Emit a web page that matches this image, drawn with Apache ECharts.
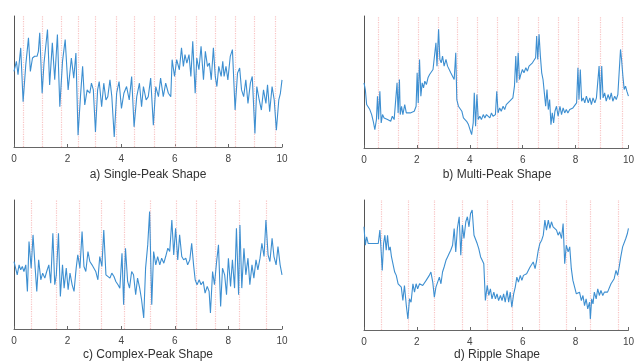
<!DOCTYPE html>
<html><head><meta charset="utf-8">
<script src="https://cdn.jsdelivr.net/npm/echarts@6/dist/echarts.min.js"></script>
<style>html,body{margin:0;padding:0;background:#fff}#c{width:637px;height:363px}</style>
</head><body><div id="c"></div>
<script>
var xTicks = [0, 2, 4, 6, 8, 10];
var captions = ["a) Single-Peak Shape", "b) Multi-Peak Shape", "c) Complex-Peak Shape", "d) Ripple Shape"];

var singlePeakX = [0.00,0.09,0.15,0.25,0.34,0.44,0.54,0.61,0.69,0.77,0.86,0.91,0.96,1.05,1.12,1.25,1.33,1.43,1.52,1.62,1.71,1.81,1.91,2.02,2.14,2.23,2.31,2.39,2.48,2.56,2.64,2.73,2.83,2.89,2.96,3.04,3.12,3.18,3.27,3.35,3.43,3.50,3.58,3.65,3.74,3.83,3.92,4.01,4.10,4.20,4.30,4.39,4.48,4.58,4.68,4.76,4.83,4.93,5.01,5.10,5.20,5.29,5.39,5.47,5.57,5.66,5.76,5.85,5.90,5.99,6.07,6.17,6.25,6.32,6.38,6.45,6.53,6.60,6.67,6.76,6.82,6.90,6.98,7.07,7.14,7.22,7.29,7.36,7.44,7.51,7.57,7.64,7.73,7.79,7.84,7.91,7.98,8.07,8.15,8.25,8.34,8.42,8.49,8.57,8.65,8.73,8.82,8.89,8.99,9.06,9.15,9.23,9.31,9.40,9.46,9.54,9.63,9.71,9.79,9.88,9.94,10.00];
var singlePeakY = [225,255,215,295,135,245,325,225,265,270,270,285,340,160,250,350,185,310,200,335,120,255,320,170,265,205,280,35,150,240,125,170,160,190,170,45,170,195,120,190,140,150,200,150,30,160,195,115,160,180,140,210,60,150,190,120,180,140,150,205,65,180,150,205,150,190,160,150,260,210,260,230,295,240,275,250,275,210,315,160,265,230,300,200,285,240,250,200,295,210,180,240,210,255,210,240,200,270,290,110,220,235,170,150,200,130,190,210,40,180,140,110,170,130,185,105,180,140,50,140,160,200];
var singlePeakLines = [0.35,1.05,1.77,2.39,3.05,3.8,4.48,5.22,6.03,6.8,7.52,8.25,8.98,9.75];

var multiPeakX = [0.00,0.05,0.10,0.16,0.22,0.29,0.35,0.41,0.47,0.51,0.55,0.60,0.65,0.70,0.76,0.82,0.89,0.95,1.01,1.07,1.14,1.20,1.25,1.29,1.34,1.37,1.42,1.47,1.54,1.60,1.67,1.75,1.82,1.90,1.97,2.01,2.05,2.10,2.15,2.20,2.25,2.30,2.36,2.42,2.48,2.55,2.61,2.67,2.72,2.76,2.82,2.87,2.92,2.97,3.03,3.10,3.16,3.22,3.28,3.35,3.41,3.47,3.51,3.57,3.63,3.70,3.76,3.82,3.88,3.95,4.01,4.07,4.13,4.17,4.22,4.27,4.32,4.38,4.44,4.51,4.57,4.63,4.69,4.76,4.82,4.88,4.97,5.02,5.07,5.13,5.19,5.26,5.32,5.38,5.44,5.51,5.57,5.63,5.69,5.74,5.78,5.83,5.88,5.93,5.99,6.05,6.12,6.18,6.24,6.30,6.37,6.43,6.49,6.53,6.57,6.62,6.67,6.72,6.77,6.82,6.87,6.92,6.97,7.02,7.07,7.12,7.17,7.22,7.28,7.34,7.41,7.47,7.53,7.59,7.65,7.71,7.78,7.84,7.90,7.96,8.04,8.09,8.13,8.18,8.23,8.29,8.35,8.41,8.48,8.54,8.60,8.66,8.73,8.79,8.85,8.89,8.94,8.99,9.04,9.10,9.16,9.23,9.29,9.35,9.41,9.48,9.54,9.60,9.65,9.70,9.74,9.79,9.84,9.89,9.94,10.00];
var multiPeakY = [195,175,130,135,115,100,80,55,85,155,85,170,75,100,90,95,85,90,80,95,85,80,195,105,205,100,125,100,130,105,100,105,100,110,125,225,135,265,155,195,180,200,190,210,220,225,235,240,315,245,355,265,255,275,245,265,245,250,225,230,205,285,145,125,120,110,90,95,80,70,75,40,75,165,65,160,85,95,85,100,90,100,95,90,105,95,100,170,105,120,110,125,115,130,125,140,145,150,185,275,195,285,205,220,235,225,240,230,245,240,255,250,270,335,265,340,275,225,205,165,125,175,115,145,70,105,75,110,125,95,125,100,120,105,115,105,115,110,120,125,135,240,145,235,140,150,135,155,135,150,130,150,135,150,145,245,145,245,150,165,140,160,145,165,140,155,145,160,155,295,265,215,175,185,170,155];
var multiPeakLines = [0.54,1.31,2.07,2.81,3.53,4.28,5.03,5.84,6.59,7.34,8.12,8.93,9.75];

var complexPeakX = [0.00,0.06,0.12,0.19,0.25,0.31,0.37,0.44,0.50,0.56,0.64,0.71,0.79,0.85,0.92,1.00,1.07,1.15,1.22,1.30,1.37,1.45,1.52,1.58,1.66,1.73,1.81,1.87,1.95,2.02,2.09,2.17,2.24,2.32,2.38,2.46,2.54,2.61,2.68,2.76,2.83,2.91,2.98,3.05,3.13,3.20,3.28,3.35,3.43,3.50,3.58,3.65,3.73,3.80,3.88,3.95,4.03,4.09,4.16,4.24,4.31,4.39,4.46,4.54,4.61,4.69,4.76,4.84,4.91,4.99,5.06,5.14,5.21,5.29,5.36,5.44,5.51,5.59,5.66,5.74,5.81,5.89,5.96,6.03,6.11,6.18,6.26,6.33,6.41,6.48,6.56,6.63,6.70,6.76,6.83,6.91,6.98,7.06,7.13,7.21,7.28,7.33,7.41,7.48,7.56,7.63,7.71,7.78,7.86,7.93,8.00,8.08,8.15,8.23,8.30,8.38,8.43,8.50,8.58,8.65,8.73,8.80,8.88,8.95,9.03,9.10,9.18,9.25,9.33,9.40,9.48,9.55,9.63,9.70,9.78,9.85,9.93,10.00];
var complexPeakY = [203,183,163,193,178,188,173,193,113,263,183,283,183,113,208,148,168,153,173,193,138,288,133,163,288,98,193,123,183,118,168,133,113,183,223,183,293,188,173,233,203,193,193,173,148,218,188,298,163,168,153,168,158,143,133,123,228,73,243,143,123,173,163,103,153,123,88,33,183,253,353,73,233,193,218,193,213,198,218,243,233,328,223,303,208,283,218,208,213,193,208,258,193,148,133,148,133,143,108,128,113,48,173,133,203,253,68,183,163,103,213,128,208,123,303,103,313,123,243,163,213,133,193,153,208,178,213,258,218,328,223,203,273,218,193,248,193,163];
var complexPeakLines = [0.65,1.58,2.45,3.26,4.13,5.07,6.06,6.8,7.51,8.42,9.4];

var rippleX = [0.00,0.05,0.10,0.16,0.22,0.29,0.35,0.41,0.47,0.54,0.60,0.65,0.69,0.74,0.79,0.84,0.89,0.94,0.99,1.04,1.10,1.16,1.22,1.29,1.35,1.41,1.47,1.53,1.60,1.66,1.72,1.78,1.85,1.91,1.97,2.03,2.10,2.16,2.22,2.28,2.35,2.41,2.47,2.53,2.60,2.66,2.72,2.78,2.85,2.91,2.97,3.03,3.10,3.16,3.22,3.28,3.35,3.41,3.47,3.53,3.60,3.66,3.72,3.78,3.85,3.91,3.97,4.03,4.09,4.16,4.22,4.28,4.34,4.41,4.47,4.53,4.59,4.66,4.72,4.78,4.84,4.91,4.97,5.03,5.09,5.16,5.22,5.28,5.34,5.41,5.47,5.53,5.59,5.66,5.72,5.78,5.84,5.91,5.97,6.03,6.09,6.15,6.22,6.28,6.34,6.40,6.47,6.53,6.59,6.65,6.72,6.78,6.84,6.90,6.97,7.03,7.09,7.15,7.22,7.28,7.34,7.40,7.47,7.53,7.59,7.65,7.72,7.78,7.84,7.90,7.97,8.03,8.09,8.15,8.22,8.28,8.34,8.40,8.46,8.53,8.56,8.61,8.66,8.71,8.78,8.84,8.90,8.96,9.03,9.09,9.15,9.21,9.28,9.34,9.40,9.46,9.53,9.59,9.65,9.71,9.78,9.84,9.90,9.96,10.00];
var rippleY = [308,253,278,258,263,258,263,258,263,258,298,233,178,258,283,238,283,238,248,218,223,173,163,138,133,128,88,133,73,33,93,83,138,113,138,123,138,133,133,128,148,153,163,173,143,98,128,133,158,138,173,188,208,218,228,238,253,303,233,303,338,223,313,273,323,338,308,348,358,283,288,258,243,218,208,198,88,133,103,123,93,113,93,108,88,103,88,108,83,118,83,113,68,108,128,158,143,163,148,163,158,168,168,188,193,203,183,208,238,258,268,283,328,298,328,303,323,308,303,298,283,293,273,318,198,253,233,248,183,148,153,108,103,113,88,103,73,93,63,83,33,93,78,113,93,123,103,118,103,113,108,113,108,138,143,153,178,163,188,218,248,253,273,288,303];
var rippleLines = [0.67,1.66,2.64,3.71,4.67,5.62,6.64,7.65,8.54,9.63];

var yMax = [390, 395, 388, 388];
var panels = [
  {x: singlePeakX, y: singlePeakY, lines: singlePeakLines},
  {x: multiPeakX, y: multiPeakY, lines: multiPeakLines},
  {x: complexPeakX, y: complexPeakY, lines: complexPeakLines},
  {x: rippleX, y: rippleY, lines: rippleLines}
];
var grids = [
  {left: 14, top: 16, width: 268, height: 131},
  {left: 364, top: 16, width: 267, height: 132},
  {left: 14, top: 200, width: 268, height: 129},
  {left: 364, top: 200, width: 267, height: 130}
];
var captionPos = [
  {left: 148, top: 169},
  {left: 497, top: 169},
  {left: 148, top: 349},
  {left: 497, top: 349}
];

var FONT = 'Liberation Sans, Arial, sans-serif';
var chart = echarts.init(document.getElementById('c'), null, {renderer: 'canvas'});
var series = [];
panels.forEach(function (p, i) {
  series.push({type: 'line', xAxisIndex: i, yAxisIndex: i, z: 1, data: [], silent: true,
    markLine: {silent: true, symbol: 'none', label: {show: false}, z: 1,
      lineStyle: {color: '#f8c4c4', type: 'dotted', width: 1.2},
      data: p.lines.map(function (v) { return {xAxis: v}; })}});
});
panels.forEach(function (p, i) {
  series.push({type: 'line', xAxisIndex: i, yAxisIndex: i, z: 5, showSymbol: false, symbol: 'none',
    data: p.x.map(function (v, k) { return [v, p.y[k]]; }),
    lineStyle: {color: '#3d8fd1', width: 1.1}});
});
var option = {
  backgroundColor: '#ffffff',
  animation: false,
  grid: grids.map(function (g) { return Object.assign({containLabel: false}, g); }),
  title: captions.map(function (t, i) {
    return {text: t, left: captionPos[i].left, top: captionPos[i].top, textAlign: 'center', padding: 0,
      textStyle: {fontFamily: FONT, fontSize: 12, fontWeight: 'normal', color: '#333'}};
  }),
  xAxis: panels.map(function (p, i) {
    return {type: 'value', gridIndex: i, min: 0, max: 10, interval: 2,
      axisLine: {lineStyle: {color: '#666', width: 1}},
      axisTick: {inside: true, length: 3, lineStyle: {color: '#666'}},
      axisLabel: {fontFamily: FONT, fontSize: 10, color: '#444', margin: 7},
      splitLine: {show: false}};
  }),
  yAxis: panels.map(function (p, i) {
    return {type: 'value', gridIndex: i, min: 0, max: yMax[i],
      axisLine: {show: true, lineStyle: {color: '#555', width: 1}},
      axisTick: {show: false}, axisLabel: {show: false}, splitLine: {show: false}};
  }),
  series: series
};
chart.setOption(option);
</script>
</body></html>
